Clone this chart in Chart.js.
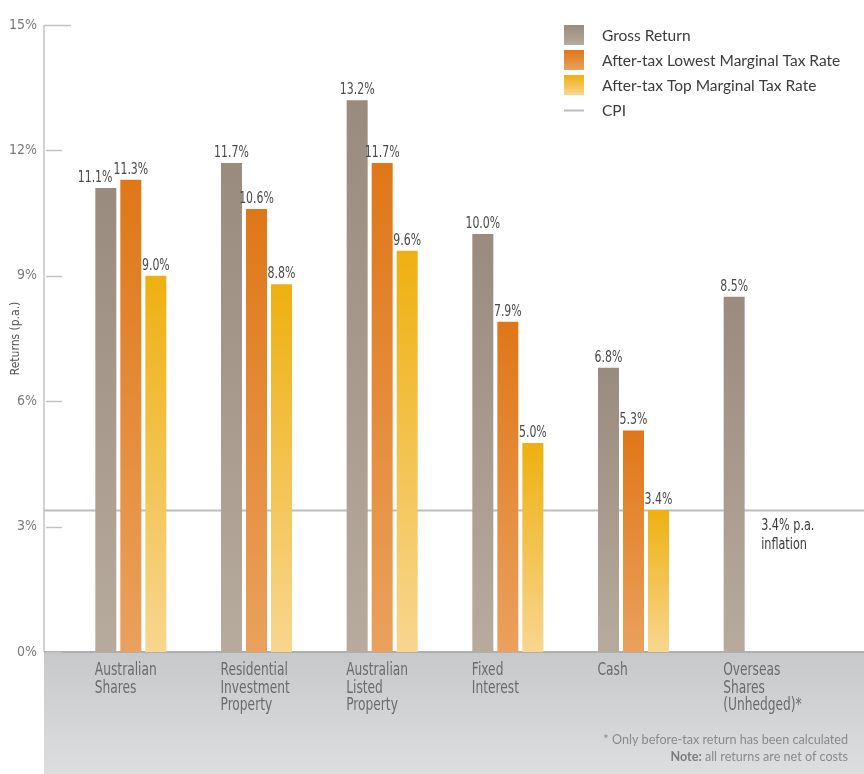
<!DOCTYPE html>
<html>
<head>
<meta charset="utf-8">
<title>Returns by asset class</title>
<script src="https://cdn.jsdelivr.net/npm/chart.js@4.4.1/dist/chart.umd.min.js"></script>
<style>
  html, body { margin: 0; padding: 0; background: #ffffff; }
  canvas { display: block; }
</style>
</head>
<body>
<canvas id="returnsChart" width="864" height="774"></canvas>
<script>
(() => {
    "use strict";

    // data
    const categories = [
        ["Australian", "Shares"],
        ["Residential", "Investment", "Property"],
        ["Australian", "Listed", "Property"],
        ["Fixed", "Interest"],
        ["Cash"],
        ["Overseas", "Shares", "(Unhedged)*"]
    ];
    const grossReturn = [11.1, 11.7, 13.2, 10.0, 6.8, 8.5];
    const afterTaxLowest = [11.3, 10.6, 11.7, 7.9, 5.3, null];
    const afterTaxTop = [9.0, 8.8, 9.6, 5.0, 3.4, null];
    const cpiRate = 3.4;
    const yTicks = [0, 3, 6, 9, 12, 15];

    const seriesNames = ["Gross Return", "After-tax Lowest Marginal Tax Rate", "After-tax Top Marginal Tax Rate", "CPI"];
    const cpiNote = ["3.4% p.a.", "inflation"];
    const footnote = "* Only before-tax return has been calculated";
    const noteLabel = "Note:";
    const noteText = " all returns are net of costs";

    const COND = '"DejaVu Sans Condensed", "DejaVu Sans", sans-serif';
    const BOOK = 'Lato, "Open Sans", sans-serif';

    const palette = [
        ["#998b7d", "#b7ab9e"],
        ["#df7718", "#eaa15d"],
        ["#eeb010", "#f8d68f"]
    ];
    const cpiColour = "#bdbdc0";
    const axisColour = "#c3c3c5";

    const AXIS_X = 44;
    const VALUE_SQUEEZE = 0.76;

    // squeezed text, to get near the tall condensed face of the original
    const narrowText = (ctx, text, x, y, squeeze) => {
        ctx.save();
        ctx.translate(x, y);
        ctx.scale(squeeze, 1);
        ctx.fillText(text, 0, 0);
        ctx.restore();
    };

    const barFill = (top, bottom) => (context) => {
        const chart = context.chart;
        if (!chart.chartArea || context.type !== "data" || context.raw == null) {
            return top;
        }
        const yScale = chart.scales.y;
        const y0 = yScale.getPixelForValue(context.raw);
        const y1 = yScale.getPixelForValue(0);
        const gradient = chart.ctx.createLinearGradient(0, y0, 0, y1);
        gradient.addColorStop(0, top);
        gradient.addColorStop(1, bottom);
        return gradient;
    };

    const decorations = {
        id: "decorations",
        beforeDraw(chart) {
            const { ctx, chartArea, width, height } = chart;
            const yScale = chart.scales.y;
            ctx.save();

            // grey band under the categories
            const band = ctx.createLinearGradient(0, chartArea.bottom, 0, height);
            band.addColorStop(0, "#c7c8ca");
            band.addColorStop(1, "#dddee0");
            ctx.fillStyle = band;
            ctx.fillRect(AXIS_X, chartArea.bottom, width - AXIS_X, height - chartArea.bottom);
            ctx.strokeStyle = "#aeafb1";
            ctx.lineWidth = 2;
            ctx.beginPath();
            ctx.moveTo(AXIS_X, chartArea.bottom);
            ctx.lineTo(width, chartArea.bottom);
            ctx.stroke();

            // y axis line with short tick marks
            ctx.strokeStyle = axisColour;
            ctx.lineWidth = 1.5;
            ctx.beginPath();
            ctx.moveTo(AXIS_X, yScale.getPixelForValue(yTicks[yTicks.length - 1]));
            ctx.lineTo(AXIS_X, chartArea.bottom);
            ctx.stroke();
            yTicks.forEach((value, index) => {
                const y = Math.round(yScale.getPixelForValue(value)) + 0.5;
                const isTop = index === yTicks.length - 1;
                ctx.beginPath();
                ctx.moveTo(isTop ? AXIS_X : AXIS_X + 2, y);
                ctx.lineTo(isTop ? AXIS_X + 27 : AXIS_X + 18, y);
                ctx.stroke();
            });

            // category names, left aligned on the first bar of each group
            const xScale = chart.scales.x;
            ctx.fillStyle = "#6b6b6d";
            ctx.font = `17px ${COND}`;
            ctx.textAlign = "left";
            ctx.textBaseline = "alphabetic";
            categories.forEach((lines, i) => {
                const x = xScale.getPixelForValue(i) - 36;
                lines.forEach((line, j) => narrowText(ctx, line, x, chartArea.bottom + 23 + j * 17.5, 0.8));
            });
            ctx.restore();
        },
        beforeDatasetsDraw(chart) {
            const { ctx, width } = chart;
            const y = Math.round(chart.scales.y.getPixelForValue(cpiRate)) + 0.5;
            ctx.save();
            ctx.strokeStyle = cpiColour;
            ctx.lineWidth = 2;
            ctx.beginPath();
            ctx.moveTo(AXIS_X, y);
            ctx.lineTo(width, y);
            ctx.stroke();
            ctx.restore();
        },
        afterDatasetsDraw(chart) {
            const { ctx, width, height } = chart;
            const xScale = chart.scales.x;
            const yScale = chart.scales.y;
            ctx.save();

            // value labels above the bars; a label that runs into its right
            // neighbour at about the same height is pushed to the left
            ctx.fillStyle = "#4a4a4a";
            ctx.font = `16px ${COND}`;
            ctx.textAlign = "center";
            ctx.textBaseline = "alphabetic";
            const metas = chart.data.datasets.map((_, di) => chart.getDatasetMeta(di));
            categories.forEach((_, i) => {
                const labels = [];
                chart.data.datasets.forEach((dataset, di) => {
                    const value = dataset.data[i];
                    if (value == null) return;
                    const bar = metas[di].data[i];
                    const text = value.toFixed(1) + "%";
                    const w = ctx.measureText(text).width * VALUE_SQUEEZE;
                    labels.push({ text, x: bar.x, y: bar.y - 6, w });
                });
                for (let k = labels.length - 2; k >= 0; k--) {
                    const a = labels[k];
                    const b = labels[k + 1];
                    const overlap = (a.x + a.w / 2) - (b.x - b.w / 2);
                    if (overlap > 0 && Math.abs(a.y - b.y) < 14) {
                        a.x -= overlap + 1;
                    }
                }
                labels.forEach((l) => narrowText(ctx, l.text, l.x, l.y, VALUE_SQUEEZE));
            });

            // CPI note
            ctx.fillStyle = "#3a3a3a";
            ctx.textAlign = "left";
            const noteX = xScale.getPixelForValue(categories.length - 1) + 2;
            const noteY = yScale.getPixelForValue(cpiRate) + 20;
            cpiNote.forEach((line, i) => narrowText(ctx, line, noteX, noteY + i * 19, 0.78));

            // legend
            const legendX = 564;
            ctx.font = `15.5px ${BOOK}`;
            ctx.textBaseline = "middle";
            palette.forEach(([top, bottom], i) => {
                const y = 25 + i * 25;
                const g = ctx.createLinearGradient(0, y, 0, y + 20);
                g.addColorStop(0, top);
                g.addColorStop(1, bottom);
                ctx.fillStyle = g;
                ctx.fillRect(legendX, y, 20, 20);
                ctx.fillStyle = "#3c3c3c";
                ctx.fillText(seriesNames[i], legendX + 38, y + 11);
            });
            ctx.strokeStyle = cpiColour;
            ctx.lineWidth = 2;
            ctx.beginPath();
            ctx.moveTo(legendX, 110.5);
            ctx.lineTo(legendX + 20, 110.5);
            ctx.stroke();
            ctx.fillStyle = "#3c3c3c";
            ctx.fillText(seriesNames[3], legendX + 38, 111);

            // footnotes
            const rightX = width - 16;
            ctx.textAlign = "right";
            ctx.textBaseline = "alphabetic";
            ctx.fillStyle = "#8a8a8c";
            ctx.font = `12.6px ${BOOK}`;
            ctx.fillText(footnote, rightX, height - 30);
            const restWidth = ctx.measureText(noteText).width;
            ctx.fillText(noteText, rightX, height - 13);
            ctx.font = `bold 12.6px ${BOOK}`;
            ctx.fillStyle = "#7c7c7e";
            ctx.fillText(noteLabel, rightX - restWidth, height - 13);
            ctx.restore();
        }
    };

    new Chart(document.getElementById("returnsChart"), {
        type: "bar",
        data: {
            labels: categories,
            datasets: [grossReturn, afterTaxLowest, afterTaxTop].map((values, i) => ({
                label: seriesNames[i],
                data: values,
                backgroundColor: barFill(palette[i][0], palette[i][1]),
                borderWidth: 0,
                categoryPercentage: 0.597,
                barPercentage: 0.84
            }))
        },
        options: {
            responsive: false,
            animation: false,
            layout: {
                padding: { top: 25, right: 42, left: 0, bottom: 0 }
            },
            plugins: {
                legend: { display: false },
                tooltip: { enabled: false }
            },
            scales: {
                x: {
                    grid: { display: false, drawTicks: false },
                    border: { display: false },
                    ticks: { display: false },
                    afterFit: (scale) => { scale.height = 122; }
                },
                y: {
                    min: 0,
                    max: 15,
                    grid: { display: false, drawTicks: false },
                    border: { display: false },
                    afterBuildTicks: (scale) => { scale.ticks = yTicks.map((value) => ({ value })); },
                    ticks: {
                        padding: 31,
                        color: "#7a7a7c",
                        font: { family: COND, size: 14 },
                        callback: (value) => value + "%"
                    },
                    title: {
                        display: true,
                        text: "Returns (p.a.)",
                        color: "#555555",
                        font: { family: COND, size: 12 },
                        padding: { top: 9, bottom: 0 }
                    },
                    afterFit: (scale) => {
                        // the wide label padding is only there to push the tick
                        // labels left; keep it out of the vertical layout
                        scale.width = 68;
                        scale.paddingTop = 0;
                        scale.paddingBottom = 0;
                    }
                }
            }
        },
        plugins: [decorations]
    });
})();
</script>
</body>
</html>
